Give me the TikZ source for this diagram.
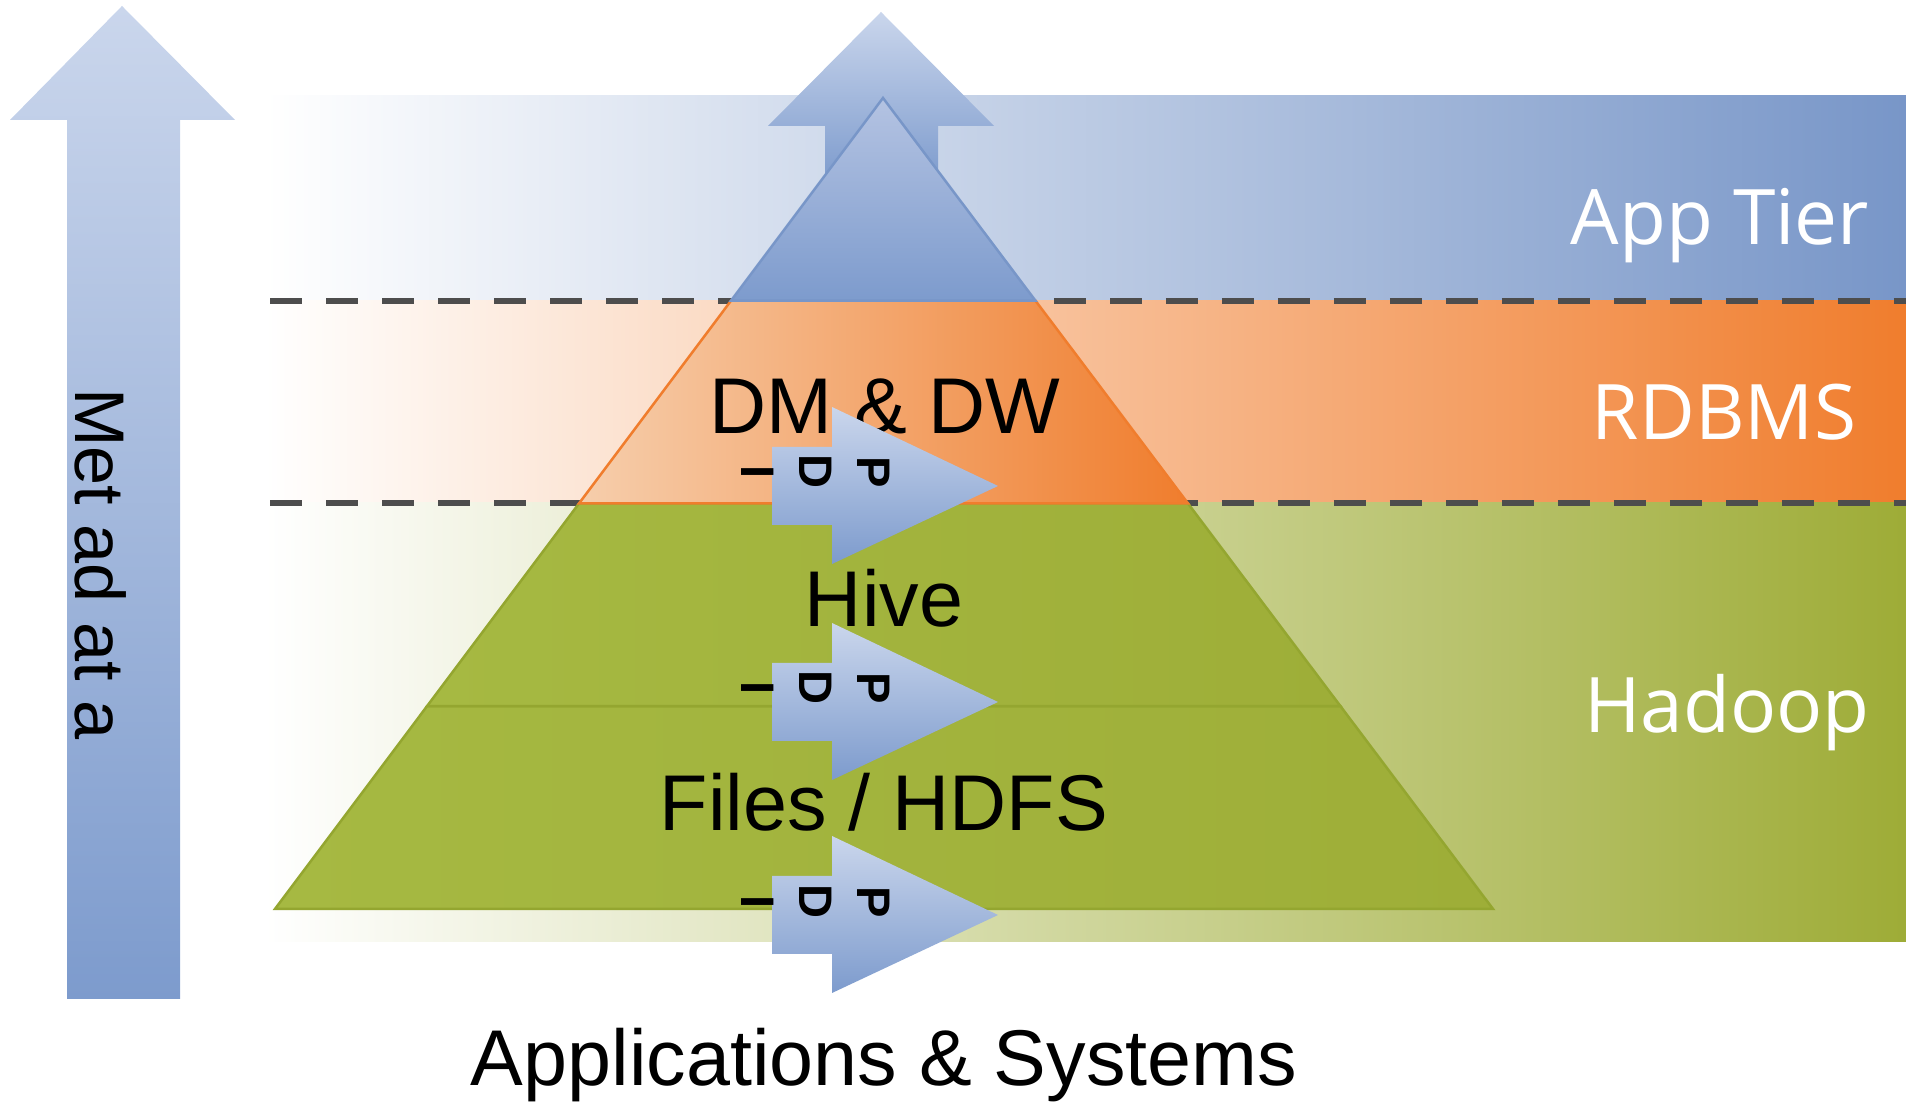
\documentclass[tikz,border=0pt]{standalone}
\usepackage{fontspec}
\setmainfont{Liberation Sans}
\newfontfamily\tierfont{Open Sans}
\usetikzlibrary{calc}

\definecolor{bandBlue}{RGB}{120,150,200}
\definecolor{bandOrange}{RGB}{240,125,45}
\definecolor{bandGreen}{RGB}{158,172,55}
\definecolor{arrowLight}{RGB}{202,214,236}
\definecolor{arrowDark}{RGB}{125,155,205}
\definecolor{dashGray}{RGB}{77,77,77}
\definecolor{pyrGreen}{RGB}{166,185,66}
\definecolor{pyrGreenDark}{RGB}{158,174,56}
\definecolor{pyrGreenEdge}{RGB}{148,166,48}
\definecolor{pyrOrangeLight}{RGB}{246,206,172}
\definecolor{triLight}{RGB}{180,195,226}

\begin{document}
\begin{tikzpicture}[x=0.1mm, y=0.1mm,
    bigarrow/.style={top color=arrowLight, bottom color=arrowDark},
    dashline/.style={draw=dashGray, line width=0.6mm, dash pattern=on 3.2mm off 2.4mm},
    pyrlabel/.style={anchor=base, inner sep=0, font=\fontsize{22.5}{27}\selectfont},
    tierlabel/.style={anchor=base, inner sep=0, text=white, font=\tierfont\fontsize{21.8}{26}\selectfont},
    pditext/.style={rotate=-90, align=center, inner sep=0, font=\bfseries\fontsize{13.4}{16.5}\selectfont}]

    \useasboundingbox (0,0) rectangle (1906,1102);

    \def\pdiArrow#1{(772,#1+39) -- (832,#1+39) -- (832,#1+79) -- (998,#1) -- (832,#1-78) -- (832,#1-39) -- (772,#1-39) -- cycle}

    % tier bands
    \shade[left color=white, right color=bandBlue] (265,801) rectangle (1906,1006);
    \shade[left color=white, right color=bandOrange] (265,599) rectangle (1906,801);
    \shade[left color=white, right color=bandGreen] (265,160) rectangle (1906,599);

    \draw[dashline] (270,801) -- (1906,801);
    \draw[dashline] (270,599) -- (1906,599);

    % arrow behind the top of the pyramid
    \path[bigarrow] (825,920) -- (825,976) -- (768,976) -- (881,1090) -- (994,976) -- (938,976) -- (938,920) -- cycle;

    % pyramid
    \coordinate (apex) at (883,1004);
    \coordinate (bl) at (275,193);
    \coordinate (br) at (1493,193);
    \coordinate (l1) at ($(bl)!0.25!(apex)$);
    \coordinate (r1) at ($(br)!0.25!(apex)$);
    \coordinate (l2) at ($(bl)!0.5!(apex)$);
    \coordinate (r2) at ($(br)!0.5!(apex)$);
    \coordinate (l3) at ($(bl)!0.75!(apex)$);
    \coordinate (r3) at ($(br)!0.75!(apex)$);

    \path[left color=pyrGreen, right color=pyrGreenDark, draw=pyrGreenEdge, line width=0.25mm] (bl) -- (l1) -- (r1) -- (br) -- cycle;
    \path[left color=pyrGreen, right color=pyrGreenDark, draw=pyrGreenEdge, line width=0.25mm] (l1) -- (l2) -- (r2) -- (r1) -- cycle;
    \path[left color=pyrOrangeLight, right color=bandOrange, draw=bandOrange, line width=0.25mm] (l2) -- (l3) -- (r3) -- (r2) -- cycle;
    \path[top color=triLight, bottom color=arrowDark, draw=bandBlue, line width=0.25mm] (l3) -- (apex) -- (r3) -- cycle;

    % layer names
    \node[pyrlabel] (dmdw) at (885,668) {DM \& DW};
    \node[pyrlabel] (hive) at (884,475) {Hive};
    \node[pyrlabel] (files) at (884,271) {Files / HDFS};
    \node[pyrlabel] (apps) at (884,16) {Applications \& Systems};

    \node[tierlabel] (apptier) at (1720,857) {App Tier};
    \node[tierlabel] (rdbms) at (1724,662) {RDBMS};
    \node[tierlabel] (hadoop) at (1727,369) {Hadoop};

    % PDI arrows
    \path[bigarrow] \pdiArrow{616};
    \path[bigarrow] \pdiArrow{400};
    \path[bigarrow] \pdiArrow{187};
    \node[pditext] (pdiA) at (816,630) {P\\D\\I};
    \node[pditext] (pdiB) at (816,414) {P\\D\\I};
    \node[pditext] (pdiC) at (816,200) {P\\D\\I};

    % metadata arrow
    \path[bigarrow] (67,103) -- (67,982) -- (10,982) -- (122,1096) -- (235,982) -- (180,982) -- (180,103) -- cycle;
    \node[rotate=-90, inner sep=0, font=\fontsize{20}{24}\selectfont] (meta) at (101,538) {Met ad at a};
\end{tikzpicture}
\end{document}
